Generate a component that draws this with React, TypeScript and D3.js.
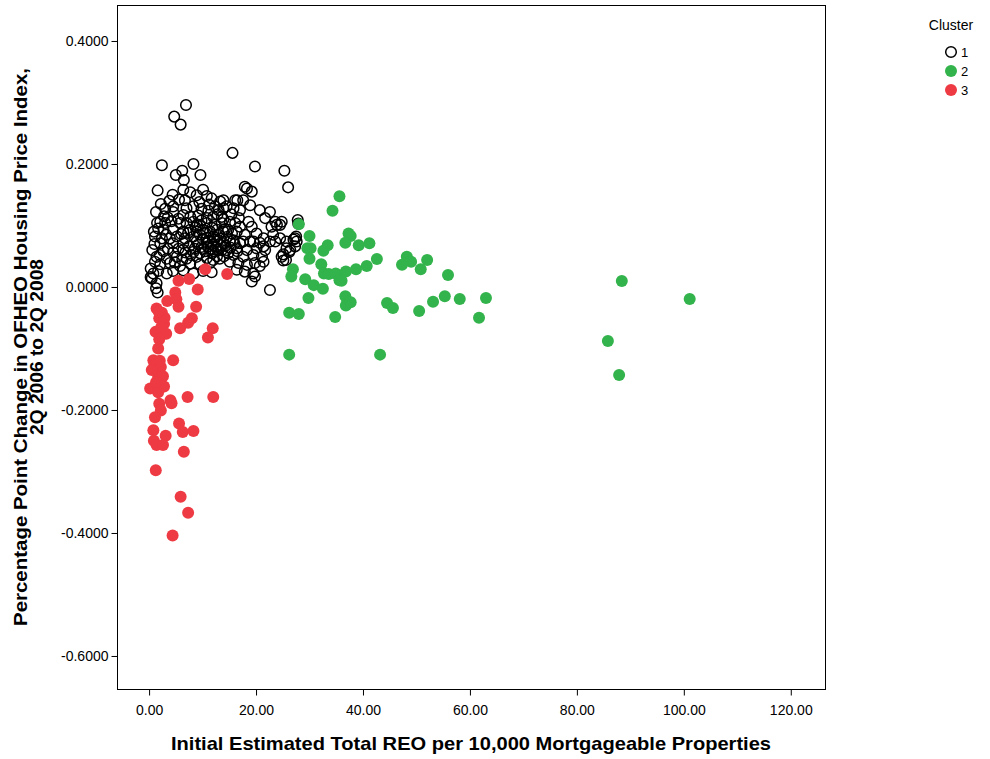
import { useEffect, useRef } from 'react';
import * as d3 from 'd3';

// [REO per 10,000, pct point change]
const cluster1: [number, number][] = [
  [6.9, 0.296], [4.7, 0.277], [5.9, 0.264], [15.6, 0.218], [2.4, 0.198], [8.3, 0.2], [19.8, 0.196],
  [25.3, 0.189], [26.0, 0.162], [6.2, 0.189], [5.0, 0.182], [9.6, 0.182], [6.5, 0.174], [1.6, 0.157],
  [4.4, 0.15], [17.9, 0.163], [19.2, 0.155], [6.4, 0.158], [10.1, 0.158], [7.7, 0.154], [10.8, 0.148],
  [11.7, 0.144], [13.3, 0.139], [6.7, 0.141], [8.9, 0.149], [16.5, 0.141], [18.3, 0.16], [13.9, 0.141],
  [16.1, 0.141], [17.6, 0.141], [18.9, 0.133], [14.5, 0.131], [3.0, 0.127], [4.5, 0.131], [7.0, 0.128],
  [8.3, 0.131], [9.8, 0.127], [12.3, 0.131], [13.9, 0.128], [15.8, 0.128], [11.1, 0.124], [13.0, 0.125],
  [17.0, 0.125], [20.7, 0.125], [22.6, 0.122],
  [4.5, 0.122], [6.4, 0.117], [7.7, 0.114], [9.2, 0.116], [10.8, 0.112], [12.0, 0.114], [13.6, 0.114],
  [13.9, 0.11], [21.7, 0.112], [27.8, 0.109], [2.1, 0.106], [3.0, 0.104], [4.2, 0.107], [5.8, 0.104],
  [7.0, 0.104], [8.3, 0.106], [9.5, 0.101], [10.8, 0.104], [12.3, 0.101], [13.6, 0.104], [15.1, 0.106],
  [16.1, 0.104], [18.6, 0.106], [23.6, 0.106], [24.5, 0.101], [24.8, 0.106], [23.9, 0.101], [22.9, 0.098],
  [1.5, 0.104], [27.9, 0.103],
  [1.7, 0.095], [2.7, 0.093], [4.5, 0.093], [6.4, 0.09], [7.7, 0.093], [8.9, 0.09], [10.1, 0.093],
  [11.4, 0.09], [12.7, 0.093], [13.9, 0.09], [14.8, 0.093], [16.4, 0.09], [17.0, 0.098], [19.2, 0.098],
  [1.1, 0.082], [2.4, 0.079], [3.9, 0.079], [5.2, 0.082], [6.7, 0.079], [8.3, 0.082], [9.5, 0.085],
  [10.8, 0.08], [12.0, 0.082], [13.3, 0.079], [17.9, 0.085], [20.1, 0.087], [21.4, 0.079], [23.2, 0.085],
  [24.5, 0.079], [27.3, 0.079], [27.0, 0.077], [27.5, 0.082],
  [2.1, 0.071], [4.5, 0.071], [6.4, 0.071], [8.9, 0.074], [10.8, 0.071], [12.7, 0.074], [13.9, 0.071],
  [15.1, 0.074], [15.8, 0.076], [17.0, 0.071], [17.6, 0.074], [18.9, 0.074], [19.5, 0.074], [20.7, 0.072],
  [22.6, 0.074], [23.6, 0.074], [25.7, 0.074], [27.6, 0.074],
  [2.7, 0.058], [4.5, 0.056], [6.4, 0.06], [8.3, 0.057], [10.1, 0.062], [12.0, 0.058], [13.6, 0.06],
  [14.5, 0.06], [16.4, 0.063], [18.3, 0.06], [20.1, 0.063], [21.4, 0.066], [21.7, 0.06], [25.7, 0.063],
  [26.4, 0.06], [27.3, 0.066],
  [1.4, 0.049], [3.3, 0.046], [5.2, 0.049], [7.0, 0.046], [8.9, 0.049], [10.8, 0.047], [12.7, 0.05],
  [15.8, 0.052], [17.6, 0.049], [19.5, 0.052], [21.1, 0.049], [24.8, 0.049], [25.1, 0.053], [26.2, 0.057],
  [25.6, 0.044], [25.1, 0.043],
  [2.1, 0.037], [3.9, 0.039], [5.8, 0.034], [7.7, 0.038], [9.5, 0.037], [11.4, 0.039], [15.1, 0.041],
  [16.7, 0.039], [18.3, 0.036], [19.8, 0.039], [21.4, 0.041], [20.7, 0.034], [1.1, 0.041],
  [0.8, 0.022], [1.7, 0.026], [3.3, 0.022], [4.5, 0.026], [6.4, 0.027], [8.3, 0.022], [10.1, 0.026],
  [11.7, 0.024], [16.4, 0.028], [17.9, 0.025], [19.5, 0.022], [19.8, 0.017],
  [0.5, 0.014], [1.4, 0.006], [1.3, -0.002], [1.6, -0.009], [19.2, 0.009], [22.6, -0.005], [0.3, 0.016],
  [11.0, 0.066], [11.5, 0.062], [12.0, 0.068], [12.5, 0.064], [13.0, 0.06], [11.8, 0.055], [10.5, 0.058],
  [9.8, 0.065], [9.2, 0.069], [10.0, 0.078], [11.2, 0.075], [12.2, 0.077], [14.3, 0.067], [14.8, 0.055],
  [15.2, 0.064], [13.5, 0.068], [14.0, 0.05], [13.2, 0.046], [12.0, 0.044], [9.5, 0.055], [8.5, 0.062],
  [7.5, 0.066], [7.8, 0.052], [6.8, 0.056], [5.5, 0.062], [6.0, 0.086], [7.3, 0.088], [8.7, 0.097],
  [9.8, 0.108], [11.8, 0.096], [3.5, 0.062], [3.2, 0.085], [2.0, 0.052], [4.8, 0.04], [6.2, 0.044],
  [13.0, 0.085], [14.5, 0.081], [15.5, 0.087], [16.0, 0.07], [16.5, 0.058], [14.2, 0.094], [10.5, 0.088],
  [9.0, 0.1], [5.5, 0.111], [3.5, 0.113], [2.8, 0.115], [15.4, 0.118], [16.8, 0.112], [12.8, 0.118],
  [11.2, 0.134], [9.4, 0.138], [5.6, 0.142], [3.8, 0.14], [2.2, 0.135], [1.3, 0.122], [0.9, 0.09],
  [0.6, 0.06], [1.0, 0.07], [0.3, 0.03],
];

const cluster2: [number, number][] = [
  [35.6, 0.1475], [34.3, 0.124], [28.0, 0.102], [30.0, 0.083], [37.3, 0.087], [37.7, 0.083], [36.7, 0.072],
  [33.4, 0.068], [32.6, 0.059], [39.2, 0.068], [41.2, 0.071], [29.6, 0.063], [30.2, 0.063], [30.0, 0.046],
  [32.2, 0.037], [42.6, 0.0455], [26.9, 0.029], [26.6, 0.017], [32.7, 0.022], [33.6, 0.021], [34.9, 0.022],
  [36.8, 0.025], [38.7, 0.029], [40.7, 0.034], [35.6, 0.011], [36.0, 0.01], [29.2, 0.0125], [30.8, 0.003],
  [32.5, -0.003], [29.8, -0.018], [36.7, -0.015], [37.1, -0.024], [36.8, -0.03], [37.7, -0.025],
  [34.8, -0.049], [26.2, -0.042], [28.0, -0.044], [26.2, -0.11], [43.2, -0.11], [48.2, 0.049],
  [49.0, 0.041], [47.3, 0.036], [52.0, 0.044], [50.8, 0.029], [55.9, 0.0195], [44.5, -0.026],
  [45.6, -0.034], [50.5, -0.039], [53.1, -0.024], [55.3, -0.015], [58.1, -0.0195], [63.0, -0.018],
  [61.7, -0.05], [88.4, 0.0098], [101.1, -0.0195], [85.8, -0.088], [87.9, -0.143],
];

const cluster3: [number, number][] = [
  [10.5, 0.029], [14.6, 0.021], [5.5, 0.01], [7.5, 0.013], [9.1, -0.004], [4.9, -0.009], [3.4, -0.023],
  [5.1, -0.02], [5.5, -0.032], [8.8, -0.032], [1.4, -0.035], [2.4, -0.042], [1.9, -0.051], [8.0, -0.051],
  [7.3, -0.058], [2.8, -0.06], [5.8, -0.067], [11.9, -0.067], [1.2, -0.073], [3.2, -0.076], [1.9, -0.085],
  [11.0, -0.082], [1.7, -0.1], [0.8, -0.119], [4.5, -0.119], [2.2, -0.13], [1.7, -0.146], [2.6, -0.145],
  [0.2, -0.165], [1.7, -0.171], [2.8, -0.162], [7.2, -0.179], [12.0, -0.179], [4.0, -0.184], [1.9, -0.19],
  [4.2, -0.189], [2.2, -0.201], [1.1, -0.212], [5.6, -0.222], [0.8, -0.233], [6.3, -0.236], [8.3, -0.234],
  [3.1, -0.242], [0.9, -0.25], [1.4, -0.257], [2.6, -0.257], [6.5, -0.268], [1.25, -0.298], [5.9, -0.341],
  [7.3, -0.367], [4.4, -0.404], [1.0, -0.127], [0.5, -0.135], [2.0, -0.12], [1.3, -0.155], [2.9, -0.05],
  [2.3, -0.065], [1.8, -0.04],
];

const xTicks = [0, 20, 40, 60, 80, 100, 120];
const yTicks = [0.4, 0.2, 0, -0.2, -0.4, -0.6];
const clusterNames = ['1', '2', '3'];

export default function App() {
  const svgRef = useRef<SVGSVGElement>(null);

  useEffect(() => {
    if (!svgRef.current) return;
    const svg = d3.select(svgRef.current);
    svg.selectAll('*').remove();

    const left = 117, right = 825, top = 5, bottom = 689;
    const x = d3.scaleLinear().domain([-6, 126.4]).range([left, right]);
    const y = d3.scaleLinear().domain([0.4585, -0.6537]).range([top, bottom]);
    const font = 'Arial, "Liberation Sans", sans-serif';
    const green = '#33b34b';
    const red = '#ee3a43';

    const g = svg.append('g');

    // frame
    g.append('rect')
      .attr('x', left + 0.5).attr('y', top + 0.5)
      .attr('width', right - left).attr('height', bottom - top)
      .attr('fill', 'white').attr('stroke', 'black').attr('stroke-width', 1);

    // x axis
    const xAxis = g.append('g').attr('transform', `translate(0.5, ${bottom + 0.5})`);
    xTicks.forEach(t => {
      xAxis.append('line').attr('x1', x(t)).attr('x2', x(t)).attr('y1', 0).attr('y2', 6)
        .attr('stroke', 'black');
      xAxis.append('text').attr('x', x(t)).attr('y', 25).attr('text-anchor', 'middle')
        .attr('font-family', font).attr('font-size', '14px').text(t.toFixed(2));
    });

    // y axis
    const yAxis = g.append('g').attr('transform', `translate(${left + 0.5}, 0.5)`);
    yTicks.forEach(t => {
      yAxis.append('line').attr('x1', -6).attr('x2', 0).attr('y1', y(t)).attr('y2', y(t))
        .attr('stroke', 'black');
      yAxis.append('text').attr('x', -9).attr('y', y(t) + 5).attr('text-anchor', 'end')
        .attr('font-family', font).attr('font-size', '14px').text(t.toFixed(4));
    });

    // titles
    svg.append('text')
      .attr('x', (left + right) / 2).attr('y', 750).attr('text-anchor', 'middle')
      .attr('font-family', font).attr('font-size', '19px').attr('font-weight', 'bold')
      .attr('textLength', 600).attr('lengthAdjust', 'spacingAndGlyphs')
      .text('Initial Estimated Total REO per 10,000 Mortgageable Properties');

    const yTitle = svg.append('g')
      .attr('transform', `translate(0, ${(top + bottom) / 2}) rotate(-90)`);
    yTitle.append('text').attr('x', 0).attr('y', 27).attr('text-anchor', 'middle')
      .attr('font-family', font).attr('font-size', '19px').attr('font-weight', 'bold')
      .attr('textLength', 558).attr('lengthAdjust', 'spacingAndGlyphs')
      .text('Percentage Point Change in OFHEO Housing Price Index,');
    yTitle.append('text').attr('x', 0).attr('y', 43).attr('text-anchor', 'middle')
      .attr('font-family', font).attr('font-size', '19px').attr('font-weight', 'bold')
      .attr('textLength', 176).attr('lengthAdjust', 'spacingAndGlyphs')
      .text('2Q 2006 to 2Q 2008');

    // points
    const pts = g.append('g');
    pts.selectAll('circle.c1').data(cluster1).join('circle')
      .attr('class', 'c1')
      .attr('cx', d => x(d[0])).attr('cy', d => y(d[1])).attr('r', 5.3)
      .attr('fill', 'none').attr('stroke', 'black').attr('stroke-width', 1.5);
    pts.selectAll('circle.c2').data(cluster2).join('circle')
      .attr('class', 'c2')
      .attr('cx', d => x(d[0])).attr('cy', d => y(d[1])).attr('r', 6)
      .attr('fill', green);
    pts.selectAll('circle.c3').data(cluster3).join('circle')
      .attr('class', 'c3')
      .attr('cx', d => x(d[0])).attr('cy', d => y(d[1])).attr('r', 6)
      .attr('fill', red);

    // legend
    const legend = svg.append('g');
    legend.append('text').attr('x', 951).attr('y', 30).attr('text-anchor', 'middle')
      .attr('font-family', font).attr('font-size', '14px').text('Cluster');
    clusterNames.forEach((name, i) => {
      const ly = 52 + i * 19;
      const c = legend.append('circle').attr('cx', 951).attr('cy', ly);
      if (i === 0) c.attr('r', 5.3).attr('fill', 'none').attr('stroke', 'black').attr('stroke-width', 1.5);
      else c.attr('r', 6).attr('fill', i === 1 ? green : red);
      legend.append('text').attr('x', 961).attr('y', ly + 5)
        .attr('font-family', font).attr('font-size', '13px').text(name);
    });
  }, []);

  return (
    <svg ref={svgRef} width={990} height={759}
      style={{ position: 'absolute', left: 0, top: 0, background: 'white' }} />
  );
}
